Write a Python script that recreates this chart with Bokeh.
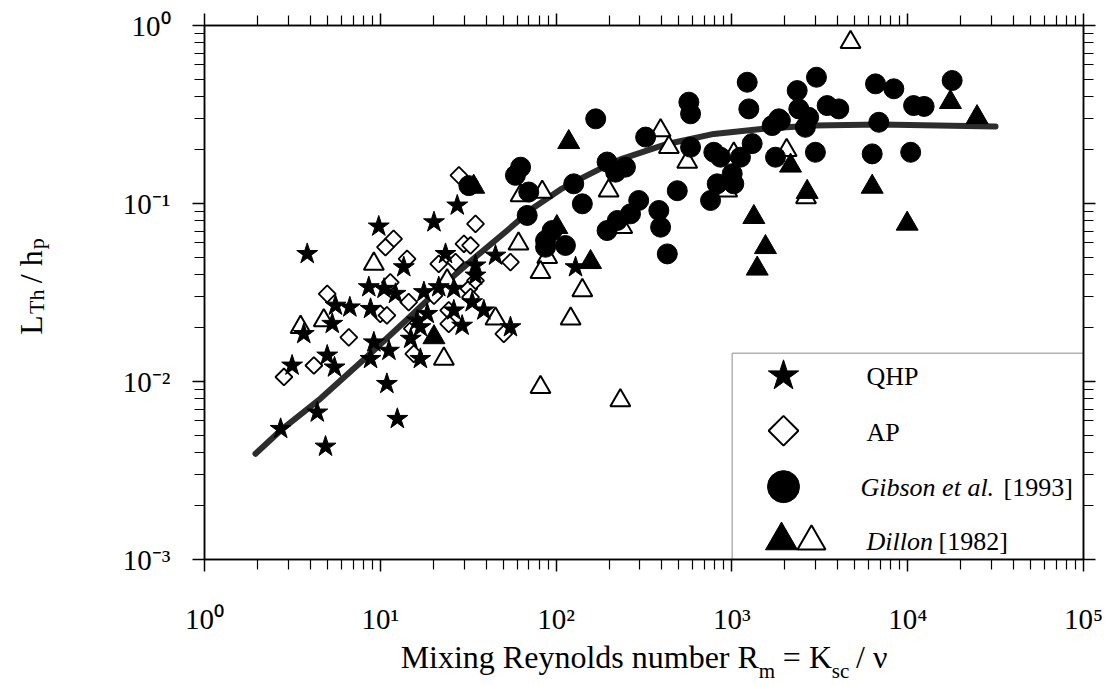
import numpy as np
from bokeh.plotting import figure
from bokeh.models import Range1d, LogAxis, FixedTicker, CustomJSTickFormatter, Label, BoxAnnotation
from bokeh.embed import file_html
from bokeh.resources import INLINE

# ---------------- data ----------------
qhp_x = [3.84, 9.80, 27.4, 20.2, 8.60, 10.5, 12.2, 13.6, 5.56, 6.71, 8.80, 5.33, 3.67, 9.19,
         11.2, 8.80, 4.99, 5.49, 3.15, 10.9, 4.38, 2.71, 12.5, 4.88, 23.5, 21.5, 26.2, 17.7,
         18.5, 16.2, 14.9, 16.9, 26.2, 29.2, 34.8, 34.8, 33.3, 38.8, 45.2, 55.0, 16.9, 129]
qhp_y = [0.0521, 0.0743, 0.0975, 0.0785, 0.0339, 0.0332, 0.0311, 0.0439, 0.0267, 0.0261,
         0.0256, 0.0211, 0.0185, 0.0166, 0.0149, 0.0134, 0.0140, 0.0120, 0.0123, 0.0097,
         0.0067, 0.00542, 0.00617, 0.00431, 0.0521, 0.0339, 0.0332, 0.0318, 0.0240, 0.0220,
         0.0174, 0.0134, 0.0251, 0.0206, 0.0449, 0.0394, 0.0279, 0.0251, 0.0510, 0.0202,
         0.0202, 0.0439]

ap_x = [28.0, 34.8, 11.9, 10.7, 14.2, 21.5, 26.8, 29.9, 32.6, 4.99, 11.4, 14.5, 10.0, 10.9,
        6.62, 4.19, 2.83, 24.5, 24.5, 15.5, 31.9, 32.6, 34.8, 55.0, 50.4, 20.2, 15.2]
ap_y = [0.144, 0.0769, 0.0633, 0.0568, 0.0489, 0.0458, 0.0468, 0.0594, 0.0581, 0.0311,
        0.0361, 0.0279, 0.0240, 0.0235, 0.0177, 0.0123, 0.0106, 0.0251, 0.0211, 0.0143,
        0.0332, 0.0298, 0.0369, 0.0468, 0.0185, 0.0304, 0.0198]

gibson_x = [62.8, 58.7, 69.9, 68.5, 31.9, 1222, 1248, 569, 582, 168, 323, 126, 141, 195, 218,
            248, 489, 295, 265, 223, 195, 384, 393, 429, 582, 789, 861, 1119, 1304, 1004, 1025,
            825, 756, 1695, 1849, 1770, 2352, 2402, 87.1, 95.0, 87.1, 113, 3027, 2733, 2618,
            1888, 3483, 4055, 2985, 6560, 8340, 6850, 6280, 10800, 12400, 10400, 17900]
gibson_y = [0.160, 0.144, 0.116, 0.0857, 0.126, 0.480, 0.340, 0.371, 0.319, 0.299, 0.236,
            0.129, 0.0996, 0.171, 0.150, 0.160, 0.118, 0.104, 0.0875, 0.0803, 0.0705, 0.0914,
            0.0736, 0.0521, 0.207, 0.194, 0.182, 0.182, 0.217, 0.147, 0.129, 0.129, 0.104,
            0.274, 0.299, 0.182, 0.431, 0.340, 0.0620, 0.0705, 0.0568, 0.0581, 0.512, 0.305,
            0.268, 0.293, 0.355, 0.340, 0.194, 0.470, 0.441, 0.286, 0.190, 0.355, 0.351,
            0.194, 0.491]

dillon_filled_x = [20.2, 34.0, 118, 101, 157, 1333, 1552, 1393, 2155, 2680, 6280, 9930, 17500, 24800]
dillon_filled_y = [0.0177, 0.124, 0.221, 0.0736, 0.0468, 0.0838, 0.0568, 0.0430, 0.163, 0.116,
                   0.124, 0.0769, 0.371, 0.305]

dillon_open_x = [9.19, 3.52, 4.77, 23.0, 45.2, 62.8, 61.1, 24.0, 81.5, 393, 438, 557, 199, 83.4,
                 89.0, 81.5, 141, 121, 232, 2048, 1025, 940, 238, 4730, 2640]
dillon_open_y = [0.0458, 0.0202, 0.0220, 0.0134, 0.0225, 0.111, 0.0594, 0.0369, 0.00929, 0.257,
                 0.207, 0.171, 0.118, 0.116, 0.0499, 0.0411, 0.0325, 0.0225, 0.00782, 0.199,
                 0.190, 0.118, 0.0736, 0.805, 0.108]

fit_x = [1.95, 2.71, 4.57, 8.42, 14.2, 22.0, 34.0, 52.7, 74.7, 106, 138, 179, 232, 429, 789,
         1518, 2924, 7000, 31600]
fit_y = [0.00393, 0.00531, 0.00802, 0.0138, 0.0223, 0.0337, 0.0491, 0.0705, 0.0950, 0.120,
         0.138, 0.157, 0.177, 0.216, 0.246, 0.263, 0.274, 0.278, 0.271]

x_major = [1, 10, 100, 1000, 10000, 100000]
y_major = [0.001, 0.01, 0.1, 1]
x_minor = [m * 10.0 ** e for e in range(0, 5) for m in range(2, 10)]
y_minor = [m * 10.0 ** e for e in range(-3, 0) for m in range(2, 10)]

legend_labels = ["QHP", "AP", "Gibson et al.", "[1993]", "Dillon", "[1982]"]

NB = "\u00a0"
x_title_main = "Mixing Reynolds number R" + NB * 3 + "=" + NB + "K" + NB * 3 + "/" + NB + "\u03bd"
x_title_subs = ["m", "sc"]
y_title_main = "L" + NB * 4 + "/" + NB + "h"
y_title_subs = ["Th", "p"]

# ---------------- layout helpers (reference pixel -> data, for annotations) ----------------
FL, FR, FT, FB = 204.0, 1083.0, 25.0, 560.0


def X(px):
    return 10 ** (5 * (px - FL) / (FR - FL))


def Y(py):
    return 10 ** (-3 + 3 * (FB - py) / (FB - FT))


SERIF = "Liberation Serif"

p = figure(width=1106, height=685, x_axis_type="log", y_axis_type="log",
           x_range=Range1d(1, 1e5), y_range=Range1d(1e-3, 1),
           output_backend="svg", toolbar_location=None,
           min_border_left=204, min_border_right=23, min_border_top=25, min_border_bottom=125)
p.grid.visible = False
p.outline_line_color = "black"
p.outline_line_width = 1.5
p.background_fill_color = "white"
p.border_fill_color = "white"

sup_code = r"""
const sup = {"0":"\u2070","1":"\u00b9","2":"\u00b2","3":"\u00b3","4":"\u2074","5":"\u2075","-":"\u207b"};
const e = Math.round(Math.log10(tick));
let s = "";
for (const c of String(e)) { s += sup[c]; }
return "10" + s;
"""

piece_code = """
let best = 0, d = Infinity;
for (let i = 0; i < pos.length; i++) {
  const dd = Math.abs(Math.log10(pos[i]) - Math.log10(tick));
  if (dd < d) { d = dd; best = i; }
}
return labels[best];
"""


def style(ax, xdir, labels):
    ax.ticker = FixedTicker(ticks=x_major if xdir else y_major,
                            minor_ticks=x_minor if xdir else y_minor)
    ax.axis_line_color = "black"
    ax.axis_line_width = 1.5
    ax.major_tick_line_color = "black"
    ax.major_tick_line_width = 1.5
    ax.minor_tick_line_color = "black"
    ax.minor_tick_line_width = 1.2
    ax.major_tick_in = 0
    ax.major_tick_out = 12
    ax.minor_tick_in = 0
    ax.minor_tick_out = 10
    if labels:
        ax.formatter = CustomJSTickFormatter(code=sup_code)
        ax.major_label_text_font = SERIF
        ax.major_label_text_font_size = "29px"
        ax.major_label_text_color = "black"
    else:
        ax.formatter = CustomJSTickFormatter(code='return "";')
        ax.major_label_text_font_size = "0px"
        ax.major_label_standoff = 0


def text_axis(pos, labels, size, standoff, vertical=False):
    ax = LogAxis(ticker=FixedTicker(ticks=pos, minor_ticks=[]),
                 formatter=CustomJSTickFormatter(code=piece_code, args=dict(pos=pos, labels=labels)))
    ax.axis_line_color = None
    ax.major_tick_line_color = None
    ax.minor_tick_line_color = None
    ax.major_tick_in = 0
    ax.major_tick_out = 0
    ax.minor_tick_in = 0
    ax.minor_tick_out = 0
    ax.major_label_text_font = SERIF
    ax.major_label_text_font_size = size
    ax.major_label_text_color = "black"
    ax.major_label_standoff = standoff
    if vertical:
        ax.major_label_orientation = "vertical"
    return ax


xa = p.xaxis[0]
ya = p.yaxis[0]
style(xa, True, True)
style(ya, False, True)
xa.major_label_standoff = 31
ya.major_label_standoff = 22

# axis titles: main text on the axis, subscripts as labels of a bare outer axis
xa.axis_label = x_title_main
xa.axis_label_text_font = SERIF
xa.axis_label_text_font_size = "32px"
xa.axis_label_text_font_style = "normal"
xa.axis_label_text_color = "black"
xa.axis_label_standoff = 1
p.add_layout(text_axis([X(766.5), X(840.0)], x_title_subs, "21px", -19), "below")

ya.axis_label = y_title_main
ya.axis_label_text_font = SERIF
ya.axis_label_text_font_size = "32px"
ya.axis_label_text_font_style = "normal"
ya.axis_label_text_color = "black"
ya.axis_label_standoff = 71
p.add_layout(text_axis([Y(301.8), Y(243.7)], y_title_subs, "22px", -40, vertical=True), "left")

top_ax = LogAxis()
style(top_ax, True, False)
p.add_layout(top_ax, "above")
right_ax = LogAxis()
style(right_ax, False, False)
p.add_layout(right_ax, "right")

# ---------------- glyphs ----------------
p.line(fit_x, fit_y, line_width=6, line_color="#2d2d2d", line_cap="round", line_join="round")
p.scatter(ap_x, ap_y, marker="square", angle=np.pi / 4, size=12,
          fill_color="white", line_color="black", line_width=1.8)
p.scatter(dillon_open_x, dillon_open_y, marker="triangle", size=20,
          fill_color="white", line_color="black", line_width=2)
p.scatter(qhp_x, qhp_y, marker="star", size=22, fill_color="black", line_color="black")
p.scatter(gibson_x, gibson_y, marker="circle", size=20, fill_color="black", line_color="black")
p.scatter(dillon_filled_x, dillon_filled_y, marker="triangle", size=22,
          fill_color="black", line_color="black")

# ---------------- legend (drawn by hand to allow italic parts) ----------------
p.add_layout(BoxAnnotation(left=X(731.7), right=X(1083), top=Y(353.3), bottom=Y(560),
                           fill_color=None, line_color="black", line_width=1.5))
p.scatter([X(783)], [Y(376)], marker="star", size=32, fill_color="black", line_color="black")
p.scatter([X(783)], [Y(431)], marker="square", angle=np.pi / 4, size=21,
          fill_color="white", line_color="black", line_width=2)
p.scatter([X(783)], [Y(487)], marker="circle", size=32, fill_color="black", line_color="black")
p.scatter([X(781)], [Y(541)], marker="triangle", size=32, fill_color="black", line_color="black")
p.scatter([X(811)], [Y(542)], marker="triangle", size=28, fill_color="white",
          line_color="black", line_width=2)

leg_pos = [(866, 377, "normal"), (866, 433, "normal"), (860, 488, "italic"),
           (1003, 488, "normal"), (866, 542, "italic"), (938, 542, "normal")]
for (px, py, st), txt in zip(leg_pos, legend_labels):
    p.add_layout(Label(x=X(px), y=Y(py), text=txt, text_font=SERIF, text_font_size="26px",
                       text_font_style=st, text_baseline="middle", text_align="left",
                       text_color="black"))

open("out.html", "w", encoding="utf-8").write(file_html(p, INLINE))
